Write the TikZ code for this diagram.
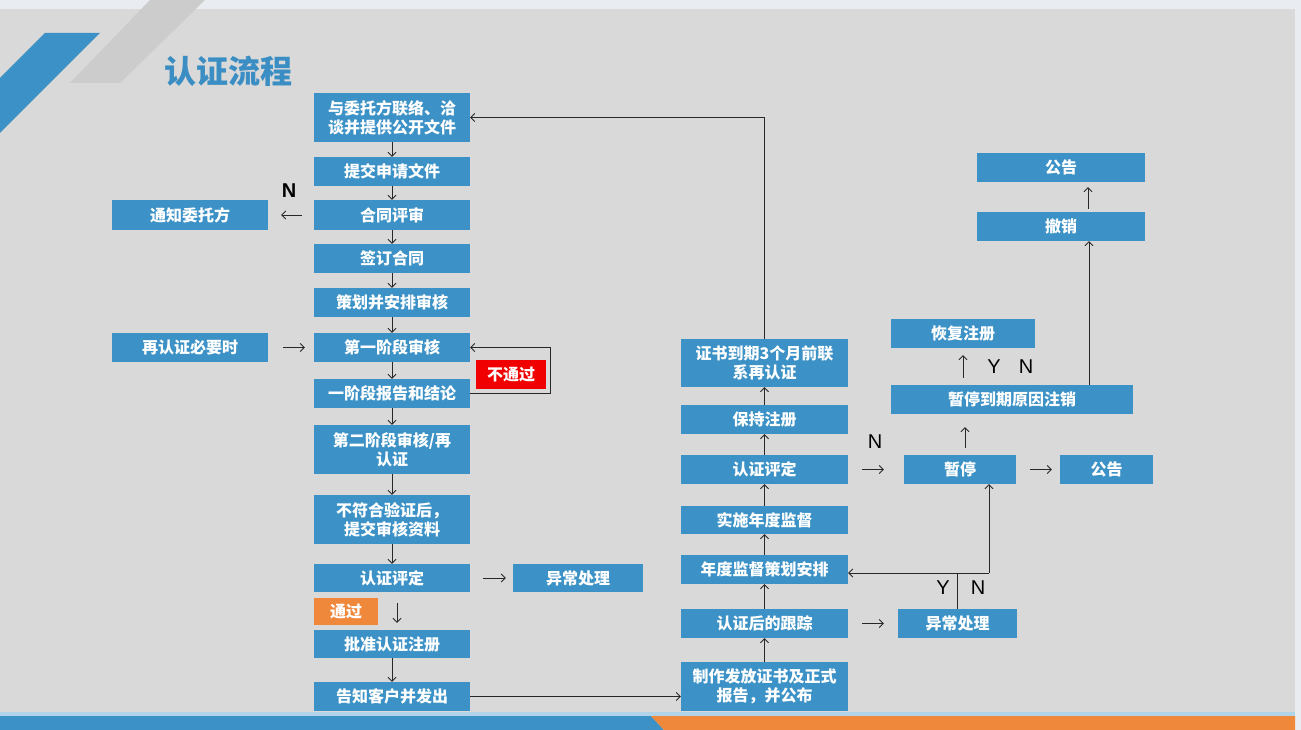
\documentclass[tikz,border=0pt]{standalone}
\usepackage{fontspec}
\newfontfamily\cjk{Noto Sans CJK SC}
\newfontfamily\lat{Liberation Sans}
\usetikzlibrary{arrows.meta}
\definecolor{boxblue}{RGB}{60,146,198}
\definecolor{titleblue}{RGB}{58,142,196}
\definecolor{bggray}{RGB}{217,217,217}
\definecolor{edgecol}{RGB}{233,237,241}
\definecolor{decogray}{RGB}{204,204,204}
\definecolor{orangec}{RGB}{240,136,60}
\definecolor{redc}{RGB}{240,0,0}
\definecolor{linec}{RGB}{40,40,40}
\tikzset{
  box/.style={fill=boxblue, text=white, font=\cjk\bfseries\fontsize{16}{19}\selectfont,
    inner sep=0pt, align=center, minimum height=29pt},
  lbox/.style={box, minimum width=156pt},
  rbox/.style={box, minimum width=167pt},
  arr/.style={draw=linec, line width=0.9pt, -{Straight Barb[length=4pt,width=8pt]}},
  yn/.style={font=\lat\fontsize{20}{20}\selectfont, inner sep=0pt},
}
\begin{document}
\begin{tikzpicture}[x=1pt,y=-1pt]
\useasboundingbox (0,0) rectangle (1301,730);
% background
\fill[edgecol] (0,0) rectangle (1301,730);
\fill[bggray] (0,9) rectangle (1295,712);
\fill[decogray] (150,0) -- (205,0) -- (120,83) -- (70,83) -- cycle;
\fill[boxblue] (45,33) -- (100,33) -- (0,133) -- (0,78) -- cycle;
\fill[boxblue!40!white] (0,712) rectangle (1295,716);
\fill[boxblue] (0,716) -- (651,716) -- (664,730) -- (0,730) -- cycle;
\fill[orangec] (651,716) -- (1295,716) -- (1295,730) -- (664,730) -- cycle;
\node[font=\cjk\bfseries\fontsize{32}{32}\selectfont, text=titleblue, anchor=west, inner sep=0pt] (title) at (164,71) {认证流程};

% left column
\node[lbox, minimum height=49pt] (b1) at (392,117.5) {与委托方联络、洽\\谈并提供公开文件};
\node[lbox] (b2) at (392,171.5) {提交申请文件};
\node[lbox, minimum height=30pt] (b3) at (392,215) {合同评审};
\node[lbox] (b4) at (392,258.5) {签订合同};
\node[lbox] (b5) at (392,302.5) {策划并安排审核};
\node[lbox] (b6) at (392,347.5) {第一阶段审核};
\node[lbox] (b7) at (392,393.5) {一阶段报告和结论};
\node[lbox, minimum height=49pt] (b8) at (392,449.5) {第二阶段审核/再\\认证};
\node[lbox, minimum height=49pt] (b9) at (392,519.5) {不符合验证后，\\提交审核资料};
\node[lbox, minimum height=28pt] (b10) at (392,578) {认证评定};
\node[box, fill=orangec, minimum width=64pt, minimum height=27pt] (pass) at (346,611.5) {通过};
\node[lbox, minimum height=28pt] (b11) at (392,644) {批准认证注册};
\node[lbox] (b12) at (392,696.5) {告知客户并发出};

\node[lbox, minimum height=30pt] (tz) at (190,215) {通知委托方};
\node[lbox] (zrz) at (190,347.5) {再认证必要时};
\node[box, minimum width=130pt, minimum height=28pt] (yc1) at (578,578) {异常处理};
\node[box, fill=redc, minimum width=70pt] (fail) at (511,374.5) {不通过};

% right column
\node[rbox, minimum height=48pt] (r1) at (764.5,363) {证书到期3个月前联\\系再认证};
\node[rbox] (r2) at (764.5,419.5) {保持注册};
\node[rbox] (r3) at (764.5,469.5) {认证评定};
\node[rbox, minimum height=28pt] (r4) at (764.5,520) {实施年度监督};
\node[rbox] (r5) at (764.5,569.5) {年度监督策划安排};
\node[rbox] (r6) at (764.5,623.5) {认证后的跟踪};
\node[rbox, minimum height=49pt] (r7) at (764.5,686.5) {制作发放证书及正式\\报告，并公布};

% far right
\node[box, minimum width=112pt] (zt) at (960,469.5) {暂停};
\node[box, minimum width=93pt] (gg2) at (1106.5,469.5) {公告};
\node[box, minimum width=119pt] (yc2) at (957.5,623.5) {异常处理};
\node[box, minimum width=242pt] (zx) at (1012,399.5) {暂停到期原因注销};
\node[box, minimum width=144pt] (hf) at (963,333.5) {恢复注册};
\node[box, minimum width=168pt] (cx) at (1061,226.5) {撤销};
\node[box, minimum width=168pt] (gg1) at (1061,167.5) {公告};

% labels
\node[yn, font=\lat\bfseries\fontsize{20}{20}\selectfont] (n1) at (289,191) {N};
\node[yn] (y2) at (994,367) {Y};
\node[yn] (n2) at (1026,367) {N};
\node[yn] (n3) at (875,442) {N};
\node[yn] (y4) at (943,588) {Y};
\node[yn] (n4) at (978,588) {N};

% left column connectors
\draw[arr] (b1) -- (b2);
\draw[arr] (b2) -- (b3);
\draw[arr] (b3) -- (b4);
\draw[arr] (b4) -- (b5);
\draw[arr] (b5) -- (b6);
\draw[arr] (b6) -- (b7);
\draw[arr] (b7) -- (b8);
\draw[arr] (b8) -- (b9);
\draw[arr] (b9) -- (b10);
\draw[arr, shorten <=11pt, shorten >=7pt] ([xshift=5pt]b10.south) -- ([xshift=5pt]b11.north);
\draw[arr] (b11) -- (b12);
\draw[arr, shorten <=12pt, shorten >=13pt] (b3.west) -- (tz.east);
\draw[arr, shorten <=15pt, shorten >=9pt] (zrz.east) -- (b6.west);
\draw[arr, shorten <=13pt, shorten >=7pt] (b10.east) -- (yc1.west);
\draw[arr] (b7.east) -- ++(80,0) |- (b6.east);
\draw[arr] (b12.east) -- (b12.east -| r7.west);
\draw[arr] (r1.north) |- (b1.east);

% right column connectors
\draw[arr] (r7) -- (r6);
\draw[arr] (r6) -- (r5);
\draw[arr] (r5) -- (r4);
\draw[arr] (r4) -- (r3);
\draw[arr] (r3) -- (r2);
\draw[arr] (r2) -- (r1);
\draw[arr, shorten <=14pt, shorten >=20pt] (r3.east) -- (zt.west);
\draw[arr, shorten <=14pt, shorten >=14pt] (r6.east) -- (yc2.west);
\draw[arr, shorten <=14pt, shorten >=8pt] (zt.east) -- (gg2.west);
\draw[arr, shorten <=7pt, shorten >=13pt] ([xshift=5pt]zt.north) -- ([xshift=5pt]zt.north |- zx.south);
\draw[arr, shorten <=7pt, shorten >=7pt] (hf.south |- zx.north) -- (hf.south);
\draw[arr] ([xshift=77pt]zx.north) -- ([xshift=77pt]zx.north |- cx.south);
\draw[arr, shorten <=3pt, shorten >=5pt] ([xshift=27pt]cx.north) -- ([xshift=27pt]cx.north |- gg1.south);
\coordinate (jr) at (989,573);
\draw[draw=linec, line width=0.9pt] (yc2.north) -- (yc2.north |- jr);
\draw[arr] (jr) -- (jr -| r5.east);
\draw[arr] (jr) -- (jr |- zt.south);
\end{tikzpicture}
\end{document}
